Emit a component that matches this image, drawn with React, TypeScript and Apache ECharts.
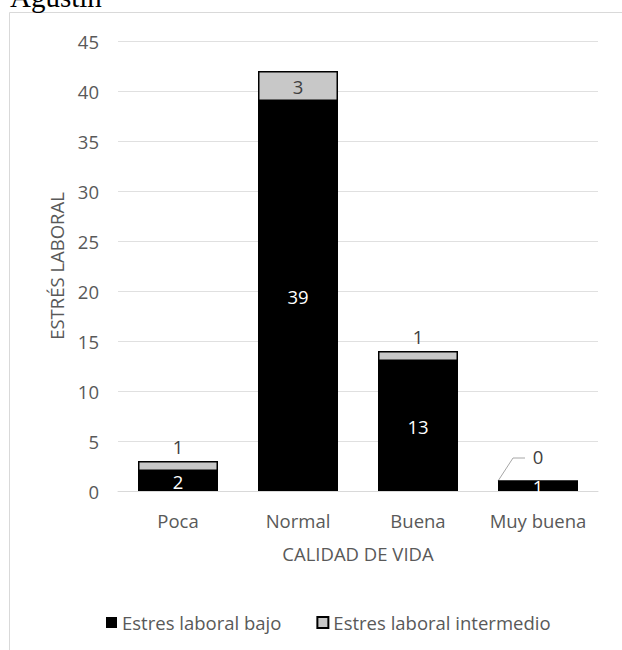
import React, { useEffect, useRef } from "react";
import * as echarts from "echarts";

const categories = ["Poca", "Normal", "Buena", "Muy buena"];
const bajoValues = [2, 39, 13, 1];
const intermedioValues = [1, 3, 1, 0];
const seriesNames = ["Estres laboral bajo", "Estres laboral intermedio"];
const intermedioLabelPos = ["top", "inside", "top", "top"];
const yTicks = { min: 0, max: 45, interval: 5 };

const FONT = "'Open Sans', 'Noto Sans', sans-serif";
const FS = 18.5;
const TEXT = "#595959";

export default function App() {
  const ref = useRef<HTMLDivElement>(null);
  useEffect(() => {
    const chart = echarts.init(ref.current!, null, { renderer: "svg" });
    const option: any = {
      animation: false,
      textStyle: { fontFamily: FONT },
      grid: { left: 118, right: 24, top: 41, bottom: 159, containLabel: false },
      legend: {
        data: seriesNames,
        left: 101,
        top: 608,
        icon: "rect",
        itemWidth: 11,
        itemHeight: 11,
        itemGap: 35,
        textStyle: { color: TEXT, fontSize: FS, fontFamily: FONT },
      },
      xAxis: {
        type: "category",
        data: categories,
        axisLine: { lineStyle: { color: "#d9d9d9", width: 1 } },
        axisTick: { show: false },
        axisLabel: { color: TEXT, fontSize: FS, margin: 20, fontFamily: FONT, interval: 0, hideOverlap: false },
        name: "CALIDAD DE VIDA",
        nameLocation: "middle",
        nameGap: 53,
        nameTextStyle: { color: TEXT, fontSize: FS, fontFamily: FONT },
      },
      yAxis: {
        type: "value",
        min: yTicks.min,
        max: yTicks.max,
        interval: yTicks.interval,
        axisLine: { show: false },
        axisTick: { show: false },
        splitLine: { lineStyle: { color: "#e0e0e0", width: 1 } },
        axisLabel: { color: TEXT, fontSize: FS, margin: 19, fontFamily: FONT },
        name: "ESTRÉS LABORAL",
        nameLocation: "middle",
        nameGap: 52,
        nameTextStyle: { color: TEXT, fontSize: FS, fontFamily: FONT },
      },
      series: [
        {
          name: seriesNames[0],
          type: "bar",
          stack: "total",
          barWidth: 80,
          data: bajoValues,
          itemStyle: { color: "#000000" },
          label: {
            show: true,
            position: "inside",
            color: "#ffffff",
            fontSize: FS,
            fontFamily: FONT,
          },
        },
        {
          name: seriesNames[1],
          type: "bar",
          stack: "total",
          barWidth: 80,
          data: intermedioValues.map((v, i) => ({
            value: v,
            label: { position: intermedioLabelPos[i] },
          })),
          itemStyle: { color: "#c8c8c8", borderColor: "#000000", borderWidth: 1.5 },
          label: {
            show: true,
            color: "#404040",
            fontSize: FS,
            fontFamily: FONT,
            distance: 5,
          },
          labelLayout: (p: any) => (p.dataIndex === 3 ? { dy: -9 } : {}),
        },
      ],
      graphic: [
        {
          type: "rect",
          silent: true,
          shape: { x: 9.5, y: 12.5, width: 800, height: 800 },
          style: { fill: "none", stroke: "#d9d9d9", lineWidth: 1 },
        },
        {
          type: "text",
          silent: true,
          style: {
            text: "Agustín",
            x: 10,
            y: -3,
            verticalAlign: "middle",
            font: "29px 'Liberation Serif', 'Times New Roman', serif",
            fill: "#000000",
          },
        },
      ],
    };
    chart.setOption(option);

    // leader line for the zero-valued label, anchored via the chart's own scale
    const idx = 3;
    const top = chart.convertToPixel({ xAxisIndex: 0, yAxisIndex: 0 }, [
      idx,
      bajoValues[idx] + intermedioValues[idx],
    ]) as number[];
    const half = 40;
    chart.setOption({
      graphic: [
        option.graphic[0],
        option.graphic[1],
        {
          type: "polyline",
          silent: true,
          shape: {
            points: [
              [top[0] - half, top[1]],
              [top[0] - 25, top[1] - 23],
              [top[0] - 13, top[1] - 23],
            ],
          },
          style: { stroke: "#a6a6a6", lineWidth: 1, fill: "none" },
        },
      ],
    });

    return () => chart.dispose();
  }, []);
  return (
    <div
      ref={ref}
      style={{ position: "absolute", left: 0, top: 0, width: 622, height: 650, background: "#fff" }}
    />
  );
}
